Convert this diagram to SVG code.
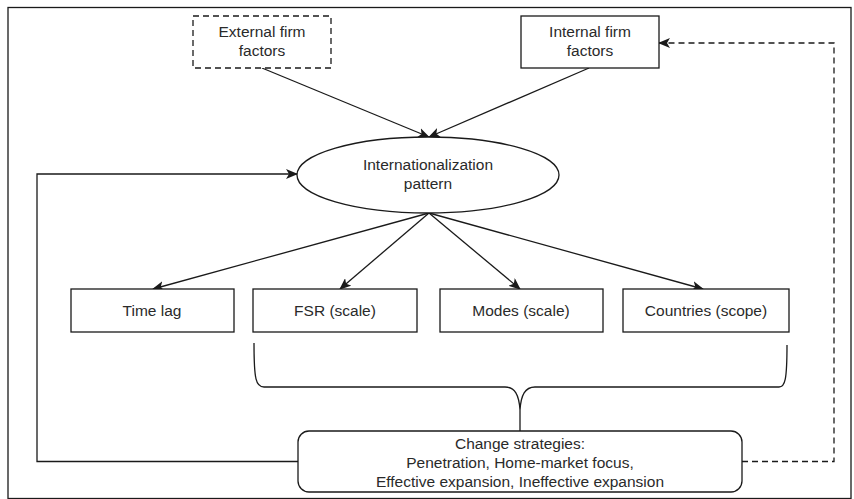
<svg xmlns="http://www.w3.org/2000/svg" width="854" height="499" viewBox="0 0 854 499">
<style>
  .box{fill:#fff;stroke:#1a1a1a;stroke-width:1.3}
  .dash{stroke-dasharray:6,4}
  .t{font-family:"Liberation Sans",Arial,sans-serif;font-size:15.5px;fill:#2a2a2a;text-anchor:middle}
  .ln{fill:none;stroke:#1a1a1a;stroke-width:1.3}
</style>
<defs>
  <marker id="ah" viewBox="0 0 12 10" refX="11" refY="5" markerWidth="12" markerHeight="10" markerUnits="userSpaceOnUse" orient="auto">
    <path d="M0,0 L12,5 L0,10 L3,5 Z" fill="#1a1a1a"/>
  </marker>
</defs>
<rect x="8" y="7.5" width="843" height="491" fill="#fff" stroke="#1a1a1a" stroke-width="1.3"/>
<g id="connectors">
  <line class="ln" x1="262" y1="68" x2="429" y2="137" marker-end="url(#ah)"/>
  <line class="ln" x1="589" y1="68" x2="429" y2="137" marker-end="url(#ah)"/>
  <line class="ln" x1="429" y1="213" x2="153" y2="289" marker-end="url(#ah)"/>
  <line class="ln" x1="429" y1="213" x2="340" y2="289" marker-end="url(#ah)"/>
  <line class="ln" x1="429" y1="213" x2="520" y2="289" marker-end="url(#ah)"/>
  <line class="ln" x1="429" y1="213" x2="703" y2="289" marker-end="url(#ah)"/>
  <path class="ln" d="M298,461.5 H37 V174 H297" marker-end="url(#ah)"/>
  <path class="ln dash" d="M742,461.5 H834 V43 H659" marker-end="url(#ah)"/>
  <path class="ln" d="M254,343 C254,380 256,387 264,387 L505,387 C515,387 519,395 520,410 C521,395 525,387 535,387 L779,387 C785,387 787,380 787,345"/>
  <line class="ln" x1="520" y1="410" x2="520" y2="431"/>
</g>
<g id="external">
  <rect class="box dash" x="193" y="16" width="138" height="52"/>
  <text class="t" x="262" y="37">External firm</text>
  <text class="t" x="262" y="56">factors</text>
</g>
<g id="internal">
  <rect class="box" x="521" y="16" width="138" height="52"/>
  <text class="t" x="590" y="37">Internal firm</text>
  <text class="t" x="590" y="56">factors</text>
</g>
<g id="pattern">
  <ellipse class="box" cx="428" cy="175" rx="131" ry="38"/>
  <text class="t" x="428" y="170">Internationalization</text>
  <text class="t" x="428" y="189">pattern</text>
</g>
<g id="timelag">
  <rect class="box" x="71" y="289" width="163" height="43"/>
  <text class="t" x="152" y="316">Time lag</text>
</g>
<g id="fsr">
  <rect class="box" x="253" y="289" width="164" height="43"/>
  <text class="t" x="335" y="316">FSR (scale)</text>
</g>
<g id="modes">
  <rect class="box" x="440" y="289" width="163" height="43"/>
  <text class="t" x="521" y="316">Modes (scale)</text>
</g>
<g id="countries">
  <rect class="box" x="623" y="289" width="166" height="43"/>
  <text class="t" x="706" y="316">Countries (scope)</text>
</g>
<g id="change">
  <rect class="box" x="298" y="431" width="444" height="61" rx="11"/>
  <text class="t" x="520" y="449">Change strategies:</text>
  <text class="t" x="520" y="468">Penetration, Home-market focus,</text>
  <text class="t" x="520" y="487">Effective expansion, Ineffective expansion</text>
</g>
</svg>
